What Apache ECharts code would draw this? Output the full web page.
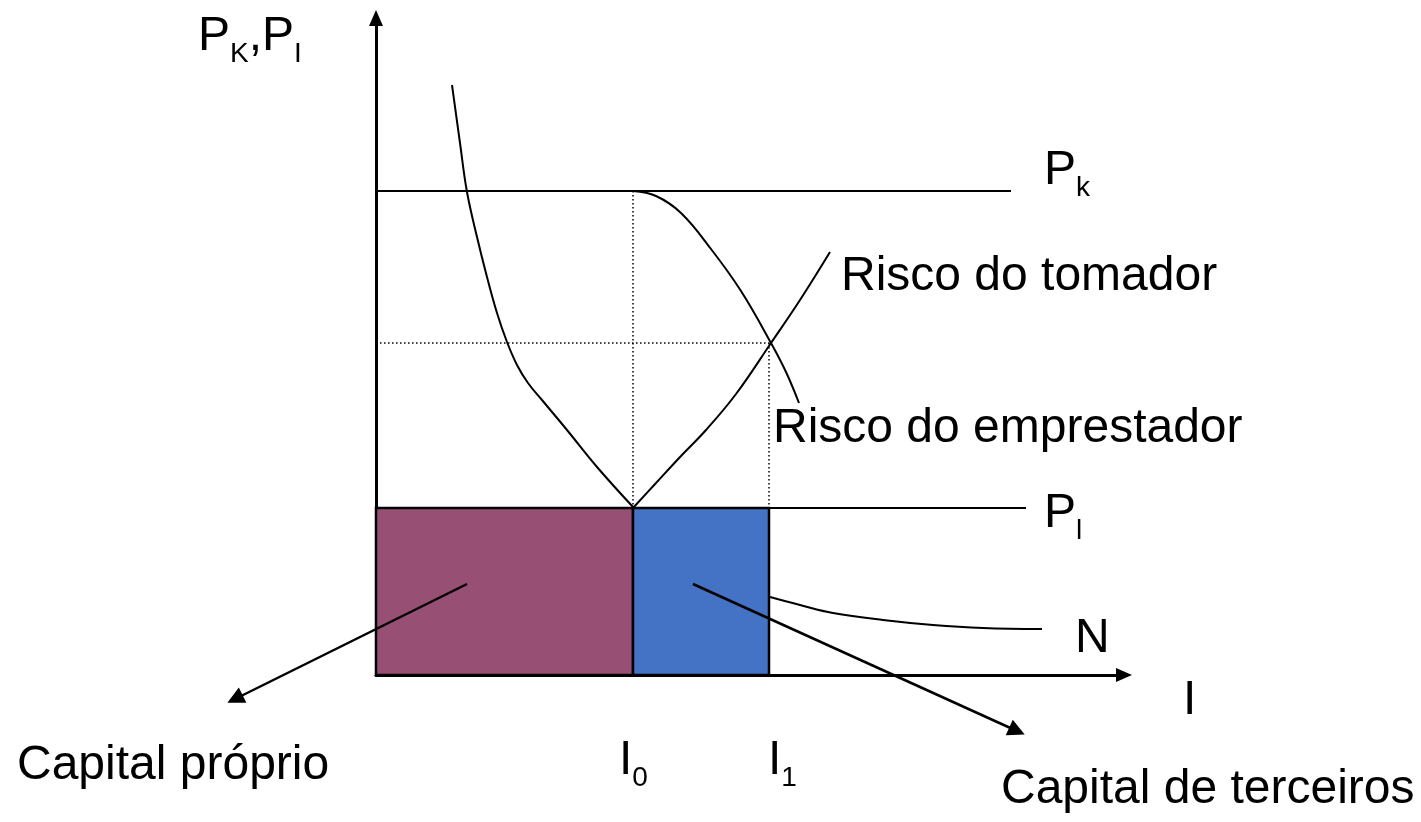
<!DOCTYPE html>
<html lang="pt">
<head>
    <meta charset="UTF-8">
    <title>Risco do tomador e do emprestador</title>
    <script src="https://cdn.jsdelivr.net/npm/echarts@6/dist/echarts.min.js"></script>
    <style>html, body { margin: 0; padding: 0; background: #fff; }</style>
</head>
<body>
<div id="main" style="width: 1421px;height:822px;"></div>
<script type="text/javascript">
    // unidades (origem no cruzamento dos eixos)
    var I0 = 257, I1 = 393;
    var PK = 484, PL = 167, PE = 332;
    var linhaPk = [[0, PK], [635, PK]];
    var linhaPl = [[0, PL], [650, PL]];
    var curvaEsq = [[76, 590], [84, 532], [91, 483], [101, 438], [111, 398], [121, 362], [131, 333], [141, 310], [152, 292], [166, 275], [191, 245], [221, 208], [257, 168]];
    var riscoEmprestador = [[257, 484], [280, 479], [305, 462], [335, 426], [365, 384], [395, 332], [410, 303], [423, 272]];
    var riscoTomador = [[257, 167], [280, 192], [305, 219], [330, 245], [360, 281], [395, 332], [424, 375], [454, 423]];
    var curvaN = [[394, 78], [424, 70], [457, 62], [507, 55], [557, 50], [607, 47], [666, 46]];
    var pontilhadoI0 = [[I0, PK], [I0, PL]];
    var pontilhadoPe = [[0, PE], [395, PE]];
    var pontilhadoI1 = [[I1, PE], [I1, 0]];
    var capitalProprio = [0, I0, 0, PL];
    var capitalTerceiros = [I0, I1, 0, PL];
    var setaProprio = [[91, 91], [-141, -24]];
    var setaTerceiros = [[317, 91], [641, -56]];

    var fonte = '"Liberation Sans", Arial, sans-serif';
    var tam = 48, tamSub = 28;
    var rotulos = [
        {x: 198, y: 53, partes: [['P'], ['K', 1], [','], ['P'], ['I', 1]]},
        {x: 1044, y: 187, partes: [['P'], ['k', 1]]},
        {x: 841, y: 293, partes: [['Risco do tomador']]},
        {x: 773, y: 445, partes: [['Risco do emprestador']]},
        {x: 1044, y: 530, partes: [['P'], ['l', 1]]},
        {x: 1075, y: 655, partes: [['N']]},
        {x: 1183, y: 717, partes: [['I']]},
        {x: 619, y: 777, partes: [['I'], ['0', 1]]},
        {x: 768, y: 777, partes: [['I'], ['1', 1]]},
        {x: 17, y: 782, partes: [['Capital próprio']]},
        {x: 1001, y: 806, partes: [['Capital de terceiros']]}
    ];

    var ctx = document.createElement('canvas').getContext('2d');
    function largura(txt, size) {
        ctx.font = size + 'px ' + fonte;
        return ctx.measureText(txt).width;
    }
    // monta os textos com subscrito, y = linha de base
    var graficos = [];
    rotulos.forEach(function (r) {
        var x = r.x;
        r.partes.forEach(function (p) {
            var size = p[1] ? tamSub : tam;
            var base = p[1] ? r.y + 11 : r.y;
            graficos.push({
                type: 'text', x: x, y: base - 0.3465 * size, silent: true,
                style: {text: p[0], font: size + 'px ' + fonte, fill: '#000', verticalAlign: 'middle', align: 'left'}
            });
            x += largura(p[0], size);
        });
    });

    function linha(dados, estilo, suave) {
        return {
            type: 'line', data: dados, symbol: 'none', silent: true,
            smooth: suave ? 0.4 : false,
            lineStyle: Object.assign({color: '#000', width: 2}, estilo || {}), z: 5
        };
    }
    var pontilhado = {type: [1.5, 2.5], width: 1.5};

    var myChart = echarts.init(document.getElementById('main'));
    myChart.setOption({
        animation: false,
        grid: [
            {left: 376, right: 297, top: 18, bottom: 147},
            {left: 0, right: 0, top: 0, bottom: 0}
        ],
        xAxis: [
            {type: 'value', gridIndex: 0, min: 0, max: 748, splitLine: {show: false}, axisTick: {show: false}, axisLabel: {show: false},
                axisLine: {show: true, onZero: false, symbol: ['none', 'triangle'], symbolSize: [14, 16], lineStyle: {color: '#000', width: 3}}},
            {type: 'value', gridIndex: 1, min: -376, max: 1045, show: false}
        ],
        yAxis: [
            {type: 'value', gridIndex: 0, min: 0, max: 657, splitLine: {show: false}, axisTick: {show: false}, axisLabel: {show: false},
                axisLine: {show: true, onZero: false, symbol: ['none', 'triangle'], symbolSize: [14, 16], lineStyle: {color: '#000', width: 3}}},
            {type: 'value', gridIndex: 1, min: -147, max: 675, show: false}
        ],
        graphic: graficos,
        series: [
            {
                type: 'custom', silent: true, z: 2,
                encode: {x: [0, 1], y: [2, 3]},
                renderItem: function (params, api) {
                    var p0 = api.coord([api.value(0), api.value(3)]);
                    var p1 = api.coord([api.value(1), api.value(2)]);
                    return {
                        type: 'rect',
                        shape: {x: p0[0], y: p0[1], width: p1[0] - p0[0], height: p1[1] - p0[1]},
                        style: {fill: api.visual('color'), stroke: '#000', lineWidth: 2.5}
                    };
                },
                data: [
                    {value: capitalProprio, itemStyle: {color: '#975073'}},
                    {value: capitalTerceiros, itemStyle: {color: '#4472C4'}}
                ]
            },
            linha(linhaPk),
            linha(linhaPl),
            linha(pontilhadoI0, pontilhado),
            linha(pontilhadoPe, pontilhado),
            linha(pontilhadoI1, pontilhado),
            linha(curvaEsq, null, true),
            linha(riscoEmprestador, null, true),
            linha(riscoTomador, null, true),
            linha(curvaN, null, true),
            {
                type: 'lines', coordinateSystem: 'cartesian2d', xAxisIndex: 1, yAxisIndex: 1, silent: true, z: 6,
                symbol: ['none', 'triangle'], symbolSize: [15, 17],
                lineStyle: {color: '#000', width: 2.5, opacity: 1, curveness: 0},
                data: [{coords: setaProprio}, {coords: setaTerceiros}]
            }
        ]
    });
</script>
</body>
</html>
